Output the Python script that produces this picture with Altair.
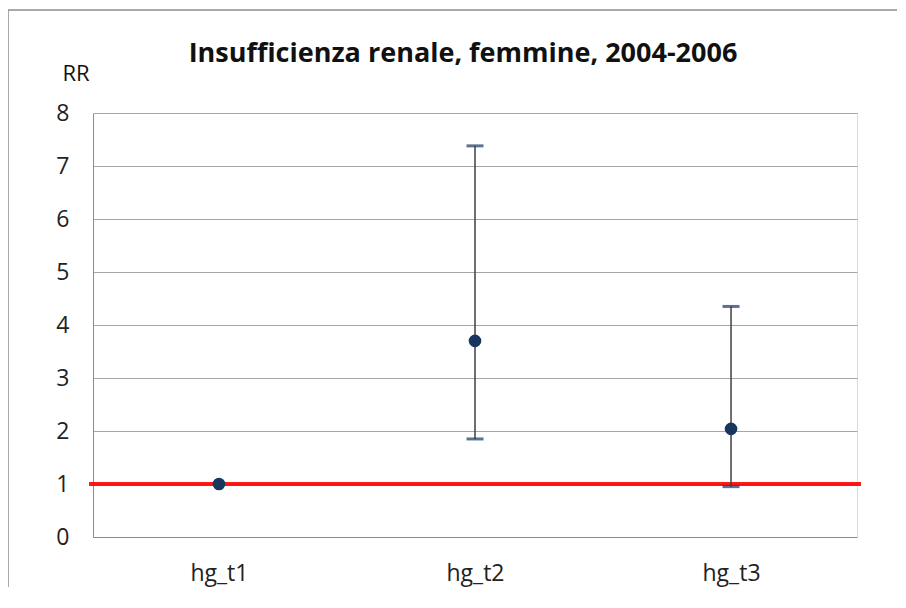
import altair as alt
import pandas as pd

categories = ["hg_t1", "hg_t2", "hg_t3"]
rr = [1.0, 3.70, 2.04]
lower = [None, 1.85, 0.95]
upper = [None, 7.38, 4.35]
reference_value = [1]
title_text = "Insufficienza renale, femmine, 2004-2006"
y_label = "RR"

df = pd.DataFrame({"cat": categories, "rr": rr, "lower": lower, "upper": upper})
ref = pd.DataFrame({"v": reference_value})

FONT = "Open Sans"
NAVY = "#17375E"

x = alt.X("cat:N", sort=categories, title=None,
          scale=alt.Scale(type="point", padding=0.492),
          axis=alt.Axis(labelAngle=0, ticks=False, domain=True, domainColor="#8C8C8C",
                        labelFont=FONT, labelFontSize=23, labelColor="#222222",
                        labelPadding=25, grid=False))
y = alt.Y("rr:Q", title=None,
          scale=alt.Scale(domain=[0, 8], nice=False, zero=True),
          axis=alt.Axis(values=list(range(0, 9)), ticks=False, domainColor="#8C8C8C",
                        gridColor="#A6A6A6", gridWidth=1, labelFont=FONT, labelFontSize=23,
                        labelColor="#222222", labelPadding=24))

base = alt.Chart(df)

refline = alt.Chart(ref).mark_rule(color="#FF0000", strokeWidth=4, opacity=0.9).encode(
    y=alt.Y("v:Q", scale=alt.Scale(domain=[0, 8], nice=False)),
    x=alt.value(-4), x2=alt.value(768))

err = base.transform_filter("isValid(datum.lower)").mark_rule(color="#404040", strokeWidth=1.5).encode(
    x=x, y=alt.Y("lower:Q"), y2="upper:Q")
cap_lo = base.transform_filter("isValid(datum.lower)").mark_tick(color=NAVY, thickness=3, size=17).encode(
    x=x, y=alt.Y("lower:Q"))
cap_hi = base.transform_filter("isValid(datum.upper)").mark_tick(color=NAVY, thickness=3, size=17).encode(
    x=x, y=alt.Y("upper:Q"))
pts = base.mark_circle(color=NAVY, size=160, opacity=1).encode(x=x, y=y)

title = alt.Chart(pd.DataFrame({"t": [title_text]})).mark_text(
    font=FONT, fontSize=27, fontWeight="bold", color="#111111", baseline="alphabetic", align="center"
).encode(text="t:N", x=alt.value(370), y=alt.value(-51))

rr_lab = alt.Chart(pd.DataFrame({"t": [y_label]})).mark_text(
    font=FONT, fontSize=22, color="#111111", baseline="alphabetic", align="center"
).encode(text="t:N", x=alt.value(-17), y=alt.value(-32))

frame_top = alt.Chart(pd.DataFrame({"a": [0]})).mark_rule(color="#8C8C8C", strokeWidth=1.5).encode(
    x=alt.value(-85), x2=alt.value(830), y=alt.value(-103))
frame_left = alt.Chart(pd.DataFrame({"a": [0]})).mark_rule(color="#8C8C8C", strokeWidth=1.5).encode(
    x=alt.value(-85), y=alt.value(-103), y2=alt.value(500))

chart = alt.layer(frame_top, frame_left, refline, err, cap_lo, cap_hi, pts, title, rr_lab).resolve_scale(
    y="shared").properties(
    width=764, height=424,
    autosize=alt.AutoSizeParams(type="none"),
    padding={"left": 85, "top": 105, "right": 40, "bottom": 50},
).configure_view(strokeWidth=0).configure(background="white")

chart.save("out.html", embed_options={"renderer": "svg", "actions": False})
